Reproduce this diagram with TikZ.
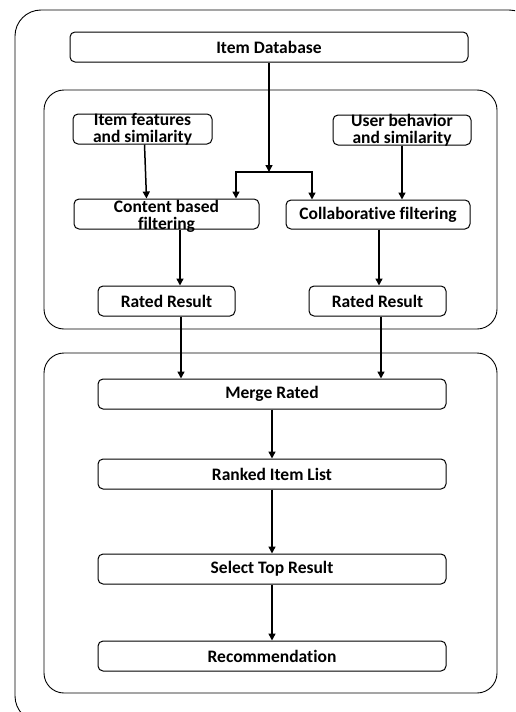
\documentclass[tikz,border=0pt]{standalone}
\usepackage{fontspec}
\setmainfont{Carlito}[Ligatures=NoCommon]
\usetikzlibrary{arrows.meta}

\begin{document}
\begin{tikzpicture}[x=1pt,y=-1pt,
	box/.style={draw,line width=1pt,rounded corners=5pt,align=center,inner sep=0pt,
		font=\bfseries\fontsize{17.5}{17}\selectfont},
	lbl/.style={align=center,inner sep=0pt,font=\bfseries\fontsize{17.5}{17}\selectfont},
	group/.style={draw,line width=0.9pt,rounded corners=20pt},
	flow/.style={-{Triangle[length=7pt,width=7pt]},line width=1.5pt}]
			\clip (0,0) rectangle (515,712);
			
			% Frames
			\draw[group,rounded corners=26pt] (15,10) rectangle (535,722);
			\draw[group] (44,90) rectangle (497,329);
			\draw[group] (44,353) rectangle (497,693);
			
			% Boxes
			\node[box,minimum width=398pt,minimum height=30pt] (db) at (269,47) {Item Database};
			\node[box,minimum width=139pt,minimum height=30pt,
				label={[lbl]center:Item features\\and similarity}] (feat) at (142.5,129) {};
			\node[box,minimum width=138pt,minimum height=30pt,
				label={[lbl]center:User behavior\\and similarity}] (user) at (402,130) {};
			\node[box,minimum width=185pt,minimum height=30pt,
				label={[lbl,yshift=-2pt]center:Content based\\filtering}] (cbf) at (166.5,214) {};
			\node[box,minimum width=184pt,minimum height=29pt] (cf) at (378,214.5) {Collaborative filtering};
			\node[box,minimum width=137pt,minimum height=30pt] (rl) at (166.5,301) {Rated Result};
			\node[box,minimum width=137pt,minimum height=30pt] (rr) at (377.5,301) {Rated Result};
			\node[box,minimum width=348pt,minimum height=30pt] (merge) at (272,394) {Merge Rated};
			\node[box,minimum width=348pt,minimum height=30pt] (rank) at (272,474) {Ranked Item List};
			\node[box,minimum width=348pt,minimum height=30pt] (top) at (272,569) {Select Top Result};
			\node[box,minimum width=348pt,minimum height=30pt] (rec) at (272,656) {Recommendation};
			
			% Split from database
			\coordinate (split) at (269,172);
			\coordinate (splitl) at (236,172);
			\coordinate (splitr) at (312,172);
			\draw[flow] (db.south) -- (split);
			\draw[flow] (split) -- (splitl) -- (splitl |- cbf.north);
			\draw[flow] (split) -- (splitr) -- (splitr |- cf.north);
			
			% Filtering arrows
			\draw[flow] ([xshift=2pt]feat.south) -- ([xshift=4pt]feat.south |- cbf.north);
			\draw[flow] (user.south) -- (user.south |- cf.north);
			\draw[flow] ([xshift=13.5pt]cbf.south) -- ([xshift=13.5pt]cbf.south |- rl.north);
			\draw[flow] ([xshift=1pt]cf.south) -- ([xshift=1pt]cf.south |- rr.north);
			\draw[flow] ([xshift=14.5pt]rl.south) -- ([xshift=14.5pt]rl.south |- merge.north);
			\draw[flow] ([xshift=3.5pt]rr.south) -- ([xshift=3.5pt]rr.south |- merge.north);
			
			% Pipeline
			\foreach \a/\b in {merge/rank,rank/top,top/rec} {
				\draw[flow] (\a.south) -- (\b.north);
			}
		\end{tikzpicture}
\end{document}
